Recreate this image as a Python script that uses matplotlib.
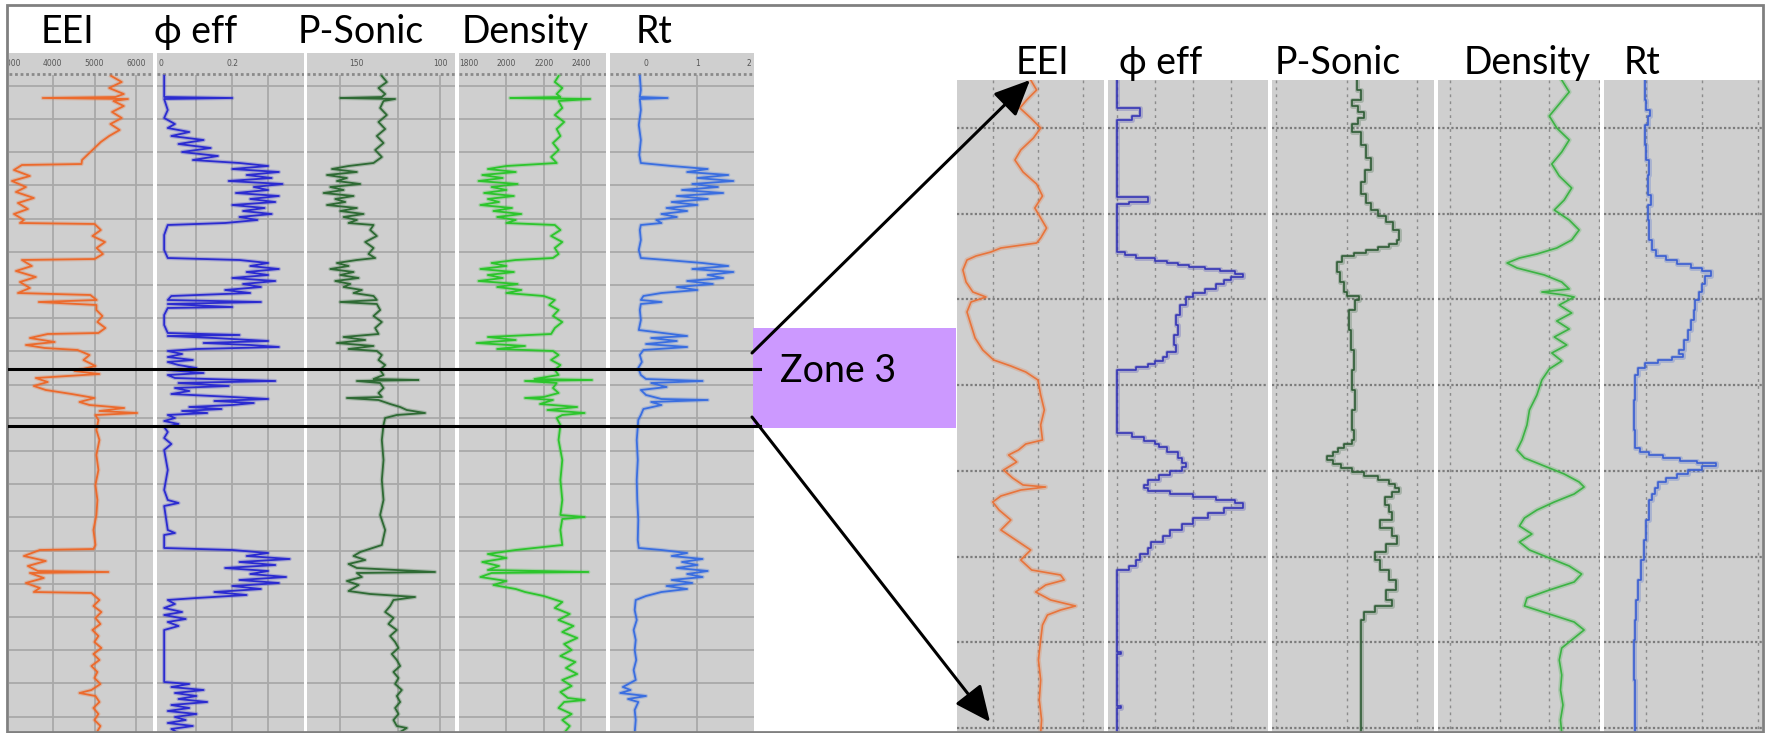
import matplotlib
matplotlib.use("Agg")
import matplotlib.pyplot as plt
import numpy as np
from matplotlib.lines import Line2D
from matplotlib.patches import FancyArrowPatch, Rectangle

plt.rcParams["font.family"] = ["Lato", "DejaVu Serif", "DejaVu Sans"]

W, H = 1766, 733

# ---- data: (depth, value) pairs read off the logs ----
# full interval (left panel)
eei_full = [
    (76, 5400), (82, 5650), (88, 5350), (94, 5700), (97, 5500), (98, 3759), (99, 5800), (101, 5450),
    (106, 5700), (112, 5420), (118, 5650), (124, 5380), (130, 5600), (136, 5350), (142, 5150), (148, 5000),
    (154, 4850), (160, 4700), (164, 4687), (165, 3260), (170, 3069), (176, 3450), (181, 3021), (187, 3355),
    (192, 3117), (198, 3545), (203, 3164), (209, 3402), (214, 3069), (220, 3307), (223, 3212), (224, 5000),
    (230, 5150), (236, 4950), (242, 5250), (248, 5050), (254, 5200), (259, 5000), (260, 3260), (266, 3497),
    (271, 3117), (277, 3593), (282, 3212), (288, 3450), (293, 3164), (295, 4900), (300, 5050), (302, 3664),
    (305, 5044), (310, 5044), (316, 5187), (322, 5068), (328, 5259), (333, 5092), (334, 3878), (338, 3450),
    (342, 4045), (345, 3355), (348, 3807), (350, 4592), (355, 4878), (360, 4735), (366, 5021), (371, 4521),
    (374, 5116), (378, 3593), (382, 3878), (386, 3545), (390, 3831), (394, 4449), (398, 4997), (402, 4640),
    (405, 4878), (408, 5711), (411, 5116), (413, 6020), (415, 5021), (420, 5092), (430, 5044), (440, 5116),
    (455, 5044), (470, 5092), (485, 5021), (500, 5068), (515, 5044), (530, 4973), (545, 5021), (549, 4973),
    (550, 3688), (556, 3307), (561, 3831), (566, 3402), (571, 3640), (572, 5330), (573, 3450), (578, 3783),
    (583, 3355), (588, 3688), (592, 3545), (593, 4925), (600, 5116), (606, 4973), (612, 5163), (618, 5021),
    (624, 5140), (630, 4949), (636, 5092), (642, 4997), (648, 5163), (654, 4973), (660, 5116), (666, 4925),
    (672, 5068), (678, 4997), (684, 5140), (690, 4925), (693, 4640), (696, 5021), (702, 5116), (708, 4973),
    (714, 5092), (720, 4997), (726, 5140), (733, 5044),
]
phi_full = [
    (76, 0.01), (97, 0.01), (98, 0.2), (99, 0.01), (110, 0.02), (118, 0.01), (124, 0.04), (128, 0.02),
    (132, 0.08), (136, 0.03), (140, 0.12), (144, 0.05), (148, 0.14), (152, 0.06), (156, 0.16), (160, 0.09),
    (163, 0.22), (166, 0.3), (169, 0.2), (172, 0.33), (175, 0.24), (178, 0.31), (181, 0.19), (184, 0.34),
    (187, 0.26), (190, 0.3), (193, 0.21), (196, 0.33), (199, 0.25), (202, 0.32), (205, 0.2), (208, 0.29),
    (211, 0.23), (214, 0.31), (217, 0.22), (220, 0.27), (223, 0.18), (225, 0.02), (235, 0.01), (250, 0.01),
    (258, 0.02), (260, 0.22), (263, 0.3), (266, 0.25), (269, 0.33), (272, 0.24), (275, 0.3), (278, 0.2),
    (281, 0.32), (284, 0.23), (287, 0.28), (290, 0.18), (293, 0.25), (296, 0.03), (300, 0.02), (302, 0.28),
    (304, 0.02), (307, 0.2), (308, 0.02), (315, 0.01), (325, 0.01), (333, 0.02), (335, 0.22), (336, 0.02),
    (338, 0.15), (341, 0.3), (343, 0.12), (345, 0.25), (347, 0.33), (349, 0.1), (351, 0.02), (354, 0.06),
    (357, 0.02), (360, 0.09), (362, 0.02), (365, 0.05), (368, 0.1), (370, 0.02), (373, 0.12), (375, 0.02),
    (378, 0.04), (381, 0.32), (383, 0.05), (386, 0.19), (388, 0.04), (391, 0.08), (394, 0.03), (397, 0.2),
    (399, 0.3), (401, 0.15), (403, 0.26), (405, 0.2), (407, 0.08), (409, 0.17), (411, 0.06), (413, 0.13),
    (415, 0.02), (418, 0.04), (421, 0.01), (424, 0.05), (427, 0.01), (432, 0.02), (438, 0.01), (444, 0.03),
    (450, 0.01), (470, 0.02), (490, 0.01), (500, 0.02), (503, 0.05), (506, 0.01), (530, 0.02), (533, 0.04),
    (535, 0.01), (548, 0.01), (550, 0.2), (553, 0.3), (556, 0.24), (559, 0.36), (562, 0.22), (565, 0.32),
    (568, 0.18), (571, 0.3), (574, 0.25), (577, 0.35), (580, 0.22), (583, 0.33), (586, 0.2), (589, 0.28),
    (592, 0.15), (595, 0.24), (598, 0.1), (600, 0.02), (604, 0.04), (608, 0.01), (612, 0.06), (615, 0.01),
    (619, 0.07), (622, 0.02), (626, 0.05), (630, 0.01), (682, 0.01), (684, 0.08), (687, 0.03), (690, 0.12),
    (693, 0.04), (696, 0.1), (699, 0.05), (702, 0.13), (705, 0.03), (708, 0.08), (711, 0.02), (714, 0.1),
    (717, 0.04), (720, 0.07), (723, 0.02), (726, 0.09), (729, 0.03), (733, 0.05),
]
sonic_full = [
    (76, 135), (82, 132), (88, 137), (94, 133), (97, 135), (98, 160), (99, 127), (101, 134), (108, 136),
    (115, 132), (122, 137), (129, 133), (136, 138), (143, 134), (150, 139), (157, 135), (163, 140),
    (166, 155), (169, 165), (172, 150), (175, 168), (178, 156), (181, 162), (184, 148), (187, 166),
    (190, 158), (193, 170), (196, 152), (199, 163), (202, 157), (205, 168), (208, 150), (211, 160),
    (214, 146), (217, 158), (220, 150), (223, 155), (225, 140), (230, 142), (236, 138), (242, 145),
    (248, 140), (254, 143), (258, 139), (260, 150), (263, 162), (266, 155), (269, 166), (272, 152),
    (275, 160), (278, 149), (281, 163), (284, 154), (287, 158), (290, 147), (293, 152), (296, 140),
    (300, 138), (302, 160), (304, 138), (310, 136), (316, 140), (322, 135), (328, 139), (334, 137),
    (337, 158), (340, 145), (343, 162), (346, 140), (349, 155), (351, 138), (355, 135), (360, 137),
    (365, 133), (370, 136), (375, 134), (379, 140), (380, 113), (381, 150), (383, 136), (388, 134),
    (393, 137), (397, 135), (398, 156), (400, 137), (404, 130), (407, 124), (410, 120), (413, 109),
    (415, 126), (418, 133), (425, 134), (440, 135), (460, 134), (480, 135), (500, 134), (515, 136),
    (530, 133), (545, 135), (552, 148), (556, 152), (560, 145), (564, 155), (568, 150), (572, 103),
    (573, 150), (577, 147), (581, 156), (585, 149), (589, 153), (591, 155), (594, 142), (597, 115),
    (600, 128), (606, 130), (612, 133), (618, 128), (624, 131), (630, 126), (636, 130), (642, 127),
    (648, 125), (654, 129), (660, 126), (666, 124), (672, 128), (678, 125), (684, 127), (690, 123),
    (696, 126), (702, 124), (708, 127), (714, 125), (720, 128), (726, 126), (728, 120), (733, 125),
]
dens_full = [
    (76, 2280), (82, 2260), (88, 2300), (94, 2270), (97, 2290), (98, 2020), (99, 2450), (101, 2280),
    (108, 2300), (115, 2260), (122, 2310), (129, 2270), (136, 2290), (143, 2250), (150, 2280), (157, 2240),
    (163, 2270), (166, 2000), (169, 1900), (172, 2050), (175, 1870), (178, 1980), (181, 1850), (184, 2060),
    (187, 1920), (190, 2000), (193, 1880), (196, 2040), (199, 1900), (202, 1960), (205, 1860), (208, 2030),
    (211, 1930), (214, 2080), (217, 1950), (220, 2050), (223, 2000), (225, 2260), (230, 2290), (236, 2240),
    (242, 2300), (248, 2260), (254, 2280), (258, 2250), (260, 2050), (263, 1920), (266, 2000), (269, 1860),
    (272, 2040), (275, 1900), (278, 1980), (281, 1850), (284, 2060), (287, 1950), (290, 2080), (293, 2000),
    (296, 2200), (300, 2260), (305, 2230), (310, 2280), (316, 2250), (322, 2300), (328, 2260), (334, 2240),
    (337, 1900), (340, 2050), (343, 1840), (346, 2100), (349, 1950), (351, 2250), (355, 2280), (360, 2240),
    (365, 2290), (370, 2260), (375, 2280), (379, 2150), (380, 2460), (381, 2100), (383, 2270), (388, 2250),
    (393, 2280), (397, 2200), (398, 2100), (400, 2250), (404, 2180), (407, 2380), (410, 2220), (413, 2420),
    (415, 2300), (418, 2270), (425, 2290), (440, 2280), (460, 2300), (480, 2290), (500, 2300), (515, 2290),
    (517, 2420), (519, 2300), (530, 2290), (545, 2300), (550, 2050), (554, 1900), (558, 2000), (562, 1870),
    (566, 1960), (570, 1900), (572, 2440), (573, 1920), (577, 1860), (581, 2000), (585, 1930), (589, 2050),
    (592, 2100), (596, 2200), (602, 2300), (608, 2260), (614, 2340), (620, 2280), (626, 2360), (632, 2300),
    (638, 2380), (644, 2310), (650, 2350), (656, 2290), (662, 2370), (668, 2320), (674, 2380), (680, 2300),
    (686, 2350), (692, 2290), (698, 2330), (700, 2420), (702, 2310), (708, 2280), (714, 2350), (720, 2300),
    (726, 2340), (733, 2310),
]
rt_full = [
    (76, -0.12), (90, -0.1), (97, -0.12), (98, 0.42), (99, -0.12), (110, -0.1), (125, -0.14), (140, -0.1),
    (155, -0.13), (163, -0.1), (166, 0.5), (169, 1.2), (172, 0.8), (175, 1.6), (178, 1.0), (181, 1.7),
    (184, 0.9), (187, 1.4), (190, 0.7), (193, 1.5), (196, 0.6), (199, 1.2), (202, 0.5), (205, 1.0),
    (208, 0.4), (211, 0.8), (214, 0.3), (217, 0.6), (220, 0.2), (223, 0.3), (225, -0.1), (230, -0.12),
    (240, -0.1), (250, -0.14), (258, -0.1), (260, 0.4), (263, 1.1), (266, 1.6), (269, 0.9), (272, 1.7),
    (275, 1.2), (278, 1.5), (281, 0.8), (284, 1.3), (287, 0.6), (290, 1.0), (293, 0.3), (296, -0.05),
    (300, -0.1), (302, 0.3), (304, -0.1), (310, -0.12), (320, -0.1), (330, -0.14), (336, 0.8), (338, 0.1),
    (341, 0.6), (344, 0.0), (347, 0.8), (350, -0.05), (355, -0.12), (362, -0.08), (368, -0.15), (375, -0.1),
    (379, 0.0), (381, 1.1), (383, 0.1), (387, 0.4), (390, -0.1), (395, 0.0), (399, 0.3), (400, 1.2),
    (402, 0.1), (405, 0.3), (409, -0.05), (415, -0.1), (420, -0.15), (440, -0.18), (460, -0.16),
    (480, -0.18), (500, -0.17), (520, -0.15), (540, -0.16), (548, -0.14), (550, 0.3), (553, 0.8),
    (556, 0.5), (559, 1.1), (562, 0.7), (565, 1.0), (568, 0.6), (571, 1.2), (574, 0.8), (577, 1.1),
    (580, 0.5), (583, 0.9), (586, 0.4), (589, 0.8), (592, 0.3), (596, 0.0), (600, -0.2), (610, -0.22),
    (620, -0.18), (630, -0.24), (640, -0.2), (650, -0.22), (660, -0.19), (670, -0.24), (680, -0.2),
    (687, -0.45), (690, -0.3), (693, -0.5), (696, 0.0), (699, -0.35), (702, -0.15), (710, -0.22),
    (720, -0.2), (733, -0.22),
]

# zone 3 close-up (right panel)
eei_zone = [
    (80, 4840), (90, 4970), (100, 4750), (108, 4600), (118, 4840), (128, 5060), (138, 4900), (150, 4620),
    (160, 4490), (172, 4670), (184, 4970), (196, 5100), (208, 4930), (218, 5060), (228, 5190), (238, 5060),
    (243, 4970), (248, 4180), (252, 3960), (256, 3630), (260, 3430), (270, 3340), (282, 3410), (292, 3560),
    (297, 3850), (302, 3520), (312, 3430), (325, 3520), (338, 3610), (350, 3780), (360, 4020), (366, 4400),
    (372, 4730), (380, 5000), (395, 5060), (410, 5140), (425, 5060), (440, 5100), (444, 4730), (450, 4570),
    (455, 4350), (462, 4530), (470, 4240), (478, 4440), (485, 4670), (487, 5170), (490, 4620), (496, 4180),
    (502, 4000), (510, 4140), (520, 4400), (530, 4180), (540, 4510), (550, 4840), (560, 4620), (570, 4860),
    (575, 5500), (580, 5580), (585, 5170), (592, 4950), (600, 5280), (606, 5830), (610, 5500), (615, 5210),
    (625, 5100), (640, 5060), (660, 5010), (680, 5060), (700, 5030), (720, 5080), (733, 5060),
]
phi_zone = [
    (80, 0.0), (103, 0.0), (108, 0.06), (116, 0.04), (120, 0.0), (192, 0.0), (197, 0.08), (202, 0.03),
    (204, 0.0), (249, 0.0), (252, 0.02), (255, 0.05), (258, 0.1), (261, 0.13), (263, 0.16), (265, 0.19),
    (267, 0.23), (269, 0.27), (271, 0.31), (274, 0.33), (277, 0.3), (280, 0.28), (284, 0.26), (289, 0.23),
    (293, 0.2), (297, 0.18), (305, 0.165), (315, 0.155), (325, 0.16), (335, 0.15), (345, 0.155), (352, 0.13),
    (357, 0.12), (361, 0.1), (364, 0.08), (367, 0.05), (370, 0.0), (429, 0.0), (433, 0.04), (437, 0.07),
    (441, 0.1), (444, 0.11), (447, 0.13), (452, 0.16), (458, 0.17), (463, 0.18), (467, 0.17), (471, 0.14),
    (475, 0.11), (480, 0.08), (485, 0.07), (488, 0.08), (491, 0.14), (494, 0.2), (497, 0.26), (500, 0.31),
    (503, 0.33), (508, 0.28), (513, 0.24), (518, 0.2), (524, 0.17), (530, 0.14), (536, 0.12), (542, 0.09),
    (548, 0.08), (554, 0.06), (560, 0.05), (566, 0.03), (570, 0.0), (645, 0.0), (652, 0.01), (654, 0.0),
    (693, 0.0), (706, 0.01), (708, 0.0), (733, 0.0),
]
sonic_zone = [
    (80, 143), (90, 140), (100, 146), (106, 142), (112, 138), (118, 142), (124, 146), (132, 140), (145, 136),
    (158, 133), (170, 137), (182, 140), (194, 136), (203, 133), (210, 128), (216, 122), (222, 117),
    (230, 113), (240, 114), (244, 120), (247, 128), (250, 136), (253, 145), (256, 153), (262, 157),
    (272, 155), (282, 152), (292, 150), (296, 141), (300, 144), (310, 148), (330, 147), (350, 145),
    (370, 146), (390, 144), (410, 146), (430, 145), (440, 146), (444, 152), (448, 156), (452, 160),
    (456, 164), (460, 160), (464, 154), (468, 146), (472, 138), (476, 128), (480, 120), (484, 116),
    (488, 113), (492, 118), (497, 123), (505, 120), (512, 118), (520, 126), (528, 118), (536, 114),
    (544, 122), (552, 130), (560, 126), (570, 120), (580, 115), (590, 122), (600, 118), (606, 130),
    (612, 138), (620, 140), (680, 140), (733, 140),
]
dens_zone = [
    (80, 2250), (92, 2280), (104, 2240), (116, 2200), (128, 2230), (140, 2280), (152, 2250), (164, 2210),
    (176, 2240), (188, 2290), (200, 2260), (210, 2220), (220, 2280), (230, 2320), (240, 2290), (248, 2230),
    (254, 2150), (258, 2080), (263, 2030), (268, 2070), (275, 2180), (282, 2250), (289, 2280), (292, 2170),
    (295, 2260), (297, 2300), (305, 2240), (313, 2290), (321, 2230), (329, 2280), (337, 2220), (345, 2270),
    (353, 2210), (361, 2250), (369, 2200), (380, 2170), (395, 2150), (410, 2120), (425, 2110), (440, 2090),
    (450, 2070), (458, 2100), (466, 2180), (474, 2260), (482, 2320), (487, 2340), (494, 2300), (502, 2220),
    (510, 2150), (518, 2100), (526, 2080), (534, 2130), (542, 2080), (550, 2120), (558, 2200), (566, 2280),
    (574, 2330), (582, 2300), (590, 2200), (598, 2110), (606, 2100), (614, 2200), (622, 2300), (630, 2340),
    (638, 2300), (648, 2250), (660, 2240), (675, 2250), (690, 2245), (705, 2255), (720, 2245), (733, 2250),
]
rt_zone = [
    (80, -0.02), (100, 0.0), (110, 0.06), (116, 0.03), (125, -0.02), (145, 0.0), (160, 0.05), (175, 0.02),
    (195, 0.08), (205, 0.03), (220, 0.05), (240, 0.1), (250, 0.18), (256, 0.35), (260, 0.55), (264, 0.8),
    (268, 1.0), (271, 1.15), (276, 1.05), (284, 1.0), (292, 0.95), (300, 0.87), (310, 0.85), (320, 0.8),
    (330, 0.75), (340, 0.68), (350, 0.58), (354, 0.65), (357, 0.45), (360, 0.2), (363, -0.02), (368, -0.15),
    (375, -0.2), (400, -0.22), (430, -0.2), (448, -0.12), (452, 0.05), (455, 0.3), (458, 0.6), (461, 0.9),
    (463, 1.24), (466, 1.0), (470, 0.75), (474, 0.55), (478, 0.35), (482, 0.2), (488, 0.15), (494, 0.1),
    (500, 0.05), (520, 0.0), (540, -0.05), (560, -0.1), (580, -0.15), (600, -0.18), (620, -0.2),
    (640, -0.22), (680, -0.2), (733, -0.2),
]

track_names = ["EEI", "\u03d5 eff", "P-Sonic", "Density", "Rt"]

BG = "#cfcfcf"
GRID = "#a9a9a9"
fig = plt.figure(figsize=(W / 100, H / 100), dpi=100)


def px_axes(x0, y0, x1, y1):
    ax = fig.add_axes([x0 / W, 1 - y1 / H, (x1 - x0) / W, (y1 - y0) / H])
    ax.set_facecolor(BG)
    ax.set_xticks([])
    ax.set_yticks([])
    for sp in ax.spines.values():
        sp.set_visible(False)
    return ax


def left_track(x0, x1, xlim, grid_x, ticks, data, color):
    ax = px_axes(x0, 53, x1, 733)
    ax.set_xlim(xlim)
    ax.set_ylim(733, 53)
    ax.vlines(grid_x, 75, 733, color=GRID, lw=1.3)
    ax.hlines(np.arange(85.8, 733, 33.2), xlim[0], xlim[1], color=GRID, lw=1.3)
    ax.hlines(74, xlim[0], xlim[1], color="#8a8a8a", lw=2.0, linestyles=(0, (1, 1)))
    for v, lab in ticks:
        ax.text(v, 64, lab, fontsize=5.5, color="#555555", ha="center", va="center",
                family="DejaVu Sans", clip_on=True)
    d, v = zip(*data)
    ax.plot(v, d, color=color, lw=3.0, alpha=0.25)
    ax.plot(v, d, color=color, lw=1.3)
    return ax


def right_track(x0, x1, xlim, grid_x, data, color, steps=False):
    ax = px_axes(x0, 80, x1, 733)
    ax.set_xlim(xlim)
    ax.set_ylim(733, 80)
    ax.vlines(grid_x, 80, 733, color="#8c8c8c", lw=1.0, linestyles=(0, (2, 3)))
    ax.hlines(np.arange(128, 733, 85.7), xlim[0], xlim[1], color="#7c7c7c", lw=1.6,
              linestyles=(0, (1, 1)))
    d, v = zip(*data)
    ds = "steps-pre" if steps else "default"
    ax.plot(v, d, color=color, lw=3.5, alpha=0.25, drawstyle=ds)
    ax.plot(v, d, color=color, lw=1.2, drawstyle=ds)
    return ax


# left panel: full interval
left_track(9, 153, (2950, 6400), [4000, 5000, 6000],
           [(3000, "3000"), (4000, "4000"), (5000, "5000"), (6000, "6000")], eei_full, "#ec6a2c")
left_track(157, 304, (-0.01, 0.40), [0.1, 0.2, 0.3], [(0, "0"), (0.2, "0.2")], phi_full, "#2b2bd0")
left_track(307, 455, (180, 91), [160, 125, 100], [(150, "150"), (100, "100")], sonic_full, "#2e6a34")
left_track(459, 606, (1745, 2535), [2000, 2200, 2400],
           [(1800, "1800"), (2000, "2000"), (2200, "2200"), (2400, "2400")], dens_full, "#2cc52c")
left_track(610, 754, (-0.7, 2.1), [1.0], [(0, "0"), (1, "1"), (2, "2")], rt_full, "#3a6ee0")

# right panel: zone 3 close-up
right_track(957, 1104, (3210, 6460), [4000, 5000, 6000], eei_zone, "#e8743b")
right_track(1108, 1268, (-0.024, 0.397), [0.0, 0.1, 0.2, 0.3], phi_zone, "#3535b5", steps=True)
right_track(1272, 1434, (203, 88), [200, 150, 100], sonic_zone, "#2f5c35", steps=True)
right_track(1438, 1600, (1752, 2404), [1800, 2000, 2200, 2400], dens_zone, "#3cb344")
right_track(1604, 1762, (-0.76, 2.07), [0, 1, 2], rt_zone, "#3a5fd2", steps=True)

# headings
for name, cx in zip(track_names, [67, 196, 361, 525, 654]):
    fig.text(cx / W, 1 - 43 / H, name, fontsize=27, ha="center", va="baseline")
for name, cx in zip(track_names, [1042, 1161, 1338, 1527, 1642]):
    fig.text(cx / W, 1 - 74 / H, name, fontsize=27, ha="center", va="baseline")

# zone 3 marker
fig.add_artist(Rectangle((753 / W, 1 - 428 / H), (956 - 753) / W, 100 / H,
                         transform=fig.transFigure, facecolor="#cc99ff", edgecolor="none"))
fig.text(780 / W, 1 - 382 / H, "Zone 3", fontsize=27, ha="left", va="baseline")
for yl in (369, 426):
    fig.add_artist(Line2D([9 / W, 760 / W], [1 - yl / H, 1 - yl / H], color="black", lw=2.2))

for start, end in (((752, 353), (1030, 80)), ((752, 417), (990, 722))):
    fig.add_artist(FancyArrowPatch((start[0] / W, 1 - start[1] / H), (end[0] / W, 1 - end[1] / H),
                                   transform=fig.transFigure, arrowstyle="-|>,head_length=1.1,head_width=0.5",
                                   mutation_scale=20, lw=2.2, color="black", shrinkA=0, shrinkB=0))

fig.add_artist(Rectangle((7 / W, 1 - 732 / H), (1763 - 7) / W, (732 - 5) / H,
                         transform=fig.transFigure, fill=False, edgecolor="#808080", lw=2))

fig.savefig("out.png", dpi=100)
